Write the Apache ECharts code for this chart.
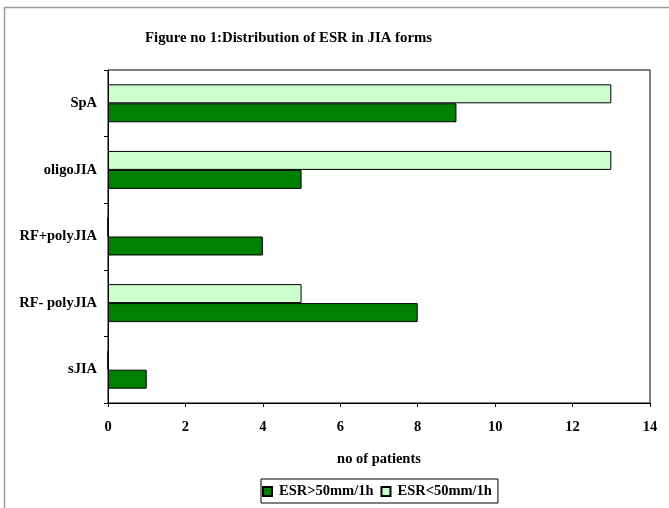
<!DOCTYPE html>
<html>
<head>
<meta charset="utf-8">
<script src="https://cdn.jsdelivr.net/npm/echarts@6/dist/echarts.min.js"></script>
<style>
  html, body { margin: 0; padding: 0; background: #fff; }
  #chart { width: 669px; height: 508px; }
</style>
</head>
<body>
<div id="chart"></div>
<script>
// JIA forms, listed bottom to top on the category axis
var categories = ['sJIA', 'RF- polyJIA', 'RF+polyJIA', 'oligoJIA', 'SpA'];
// Patients per form, split by ESR level
var esrHigh = [1, 8, 4, 5, 9];    // ESR>50mm/1h
var esrLow  = [0, 5, 0, 13, 13];  // ESR<50mm/1h
var xTicks = { min: 0, max: 14, interval: 2 };

var FONT = '"Liberation Serif", "Times New Roman", serif';
var textBase = { fontFamily: FONT, fontWeight: 'bold', fontSize: 14.5, color: '#000' };

var chart = echarts.init(document.getElementById('chart'), null, { renderer: 'canvas' });

chart.setOption({
  animation: false,
  backgroundColor: '#fff',
  graphic: [{
    type: 'rect',
    shape: { x: 4.5, y: 7.5, width: 800, height: 600 },
    style: { fill: 'none', stroke: '#9a9a9a', lineWidth: 1.5 },
    silent: true, z: -10
  }],
  title: {
    text: 'Figure no 1:Distribution of ESR in JIA forms',
    left: 145, top: 31, padding: 0,
    textStyle: Object.assign({}, textBase, { fontSize: 14.8 })
  },
  legend: {
    data: ['ESR>50mm/1h', 'ESR<50mm/1h'],
    left: 261, top: 479,
    orient: 'horizontal',
    padding: [5, 6, 4, 1],
    itemGap: 7,
    itemWidth: 9, itemHeight: 9,
    icon: 'rect',
    borderColor: '#000', borderWidth: 1,
    textStyle: Object.assign({}, textBase, { padding: [0, 0, 0, 2] })
  },
  grid: {
    left: 108, top: 70, right: 19, bottom: 105,
    show: true, borderColor: '#000', borderWidth: 1,
    containLabel: false
  },
  xAxis: {
    type: 'value',
    min: xTicks.min, max: xTicks.max, interval: xTicks.interval,
    name: 'no of patients',
    nameLocation: 'middle',
    nameGap: 49,
    nameTextStyle: Object.assign({}, textBase),
    axisLine: { show: true, lineStyle: { color: '#000', width: 1 } },
    axisTick: { show: true, length: 4, lineStyle: { color: '#000' } },
    axisLabel: Object.assign({ margin: 17 }, textBase),
    splitLine: { show: false }
  },
  yAxis: {
    type: 'category',
    data: categories,
    axisLine: { show: true, lineStyle: { color: '#000', width: 1 } },
    axisTick: { show: true, length: 4, lineStyle: { color: '#000' } },
    axisLabel: Object.assign({ margin: 11 }, textBase),
    splitLine: { show: false }
  },
  // Light bars are listed first so they sit above the dark bars in each band
  series: [
    {
      name: 'ESR<50mm/1h',
      type: 'bar',
      data: esrLow,
      barGap: '0%',
      barCategoryGap: '43%',
      itemStyle: { color: '#ccffcc', borderColor: '#000', borderWidth: 1 }
    },
    {
      name: 'ESR>50mm/1h',
      type: 'bar',
      data: esrHigh,
      barGap: '0%',
      barCategoryGap: '43%',
      itemStyle: { color: '#008000', borderColor: '#000', borderWidth: 1 }
    }
  ]
});
</script>
</body>
</html>
